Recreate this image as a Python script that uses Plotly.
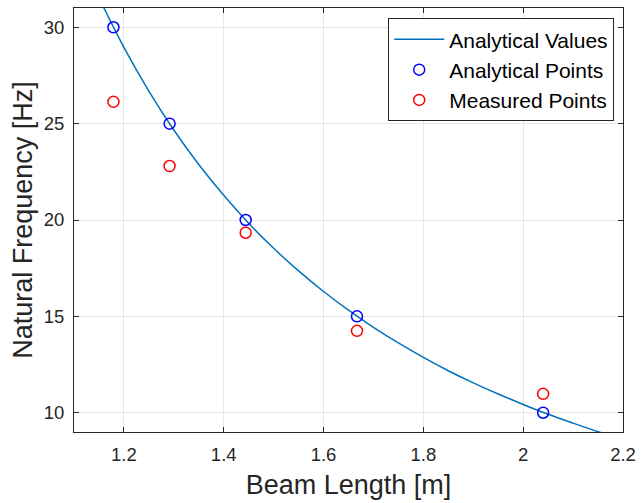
import plotly.graph_objects as go

# Analytical curve
curve_x = [1.15, 1.20, 1.25, 1.30, 1.35, 1.40, 1.45, 1.50, 1.55, 1.60, 1.65,
           1.70, 1.75, 1.80, 1.85, 1.90, 1.95, 2.00, 2.05, 2.10, 2.15, 2.20]
curve_y = [31.53, 28.96, 26.69, 24.67, 22.88, 21.28, 19.83, 18.53, 17.36, 16.29, 15.32,
           14.43, 13.62, 12.87, 12.18, 11.55, 10.97, 10.43, 9.92, 9.46, 9.02, 8.62]

# Analytical points
pt_x = [1.179, 1.2915, 1.444, 1.667, 2.040]
pt_y = [30, 25, 20, 15, 10]

# Measured points
meas_y = [26.13, 22.8, 19.34, 14.25, 10.98]

x_ticks = [1.2, 1.4, 1.6, 1.8, 2.0, 2.2]
x_tick_labels = ["1.2", "1.4", "1.6", "1.8", "2", "2.2"]
y_ticks = [10, 15, 20, 25, 30]

FONT = "Liberation Sans, Arial, Helvetica, sans-serif"
AX = "#262626"

fig = go.Figure()
fig.add_trace(go.Scatter(x=curve_x, y=curve_y, mode="lines", line_shape="spline",
                         line=dict(color="#0072BD", width=1.5), name="Analytical Values"))
fig.add_trace(go.Scatter(x=pt_x, y=pt_y, mode="markers", name="Analytical Points",
                         marker=dict(symbol="circle-open", size=11, color="#0000FF",
                                     line=dict(width=1.5, color="#0000FF"))))
fig.add_trace(go.Scatter(x=pt_x, y=meas_y, mode="markers", name="Measured Points",
                         marker=dict(symbol="circle-open", size=11, color="#FF0000",
                                     line=dict(width=1.5, color="#FF0000"))))

axis_common = dict(showline=True, linecolor=AX, linewidth=1, mirror="allticks",
                   ticks="inside", ticklen=5, tickcolor=AX, showgrid=True,
                   gridcolor="#e6e6e6", gridwidth=1, zeroline=False,
                   tickfont=dict(family=FONT, size=18.5, color=AX))

fig.update_xaxes(range=[1.1, 2.2], tickvals=x_ticks, ticktext=x_tick_labels,
                 ticklabelstandoff=6,
                 title=dict(text="Beam Length [m]", font=dict(family=FONT, size=27, color=AX), standoff=10),
                 **axis_common)
fig.update_yaxes(range=[9, 31], tickvals=y_ticks, ticklabelstandoff=5,
                 title=dict(text="Natural Frequency [Hz]", font=dict(family=FONT, size=27, color=AX), standoff=3),
                 **axis_common)

fig.update_layout(
    width=643, height=503,
    margin=dict(l=74, r=16, t=7, b=71),
    paper_bgcolor="white", plot_bgcolor="white",
    showlegend=True,
    legend=dict(x=0.984, y=0.976, xanchor="right", yanchor="top",
                bgcolor="white", bordercolor=AX, borderwidth=1,
                font=dict(family=FONT, size=21, color="black"),
                itemwidth=50, tracegroupgap=0),
)

fig.write_html("out.html")
